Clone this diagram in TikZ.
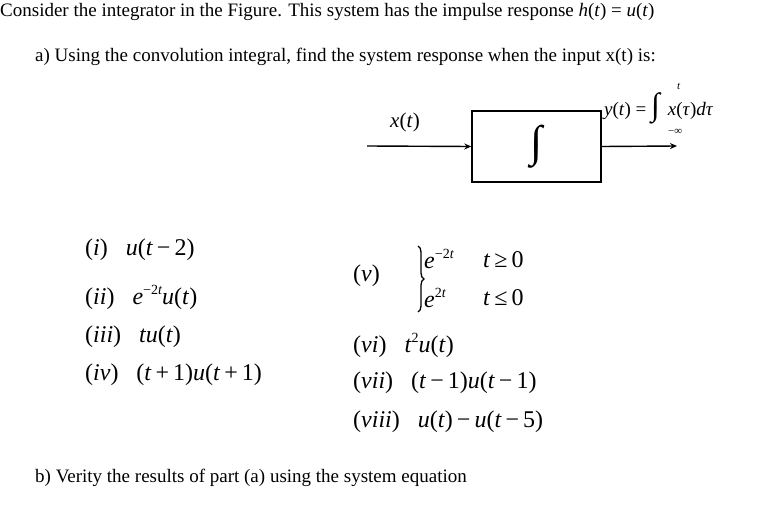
\documentclass[tikz,border=0pt]{standalone}
\usepackage{fontspec}
\setmainfont{Liberation Serif}
\usetikzlibrary{arrows.meta,decorations.pathreplacing}
\newcommand{\iv}[1]{\textit{#1}}
\newcommand{\spr}[1]{\raisebox{10pt}{\fontsize{14}{14}\selectfont #1}}
\begin{document}
\begin{tikzpicture}[x=1pt,y=-1pt,
  txt/.style={anchor=west,inner sep=0pt,font=\fontsize{19}{22}\selectfont},
  eq/.style={anchor=west,inner sep=0pt,font=\fontsize{24}{27}\selectfont},
  sup/.style={anchor=west,inner sep=0pt},
  sig/.style={-{Stealth[length=7pt,width=6pt]},line width=1.4pt}]
\useasboundingbox (0,0) rectangle (777,530);
\node[txt] (title) at (0,12) {Consider the integrator in the Figure. This system has the impulse response \iv{h}(\iv{t}) = \iv{u}(\iv{t})};
\node[txt] (pa) at (35,57) {a) Using the convolution integral, find the system response when the input x(t) is:};
\node[draw,line width=1.4pt,minimum width=129pt,minimum height=71pt,inner sep=0pt] (box) at (536.5,146.5) {\fontsize{44}{44}\selectfont ∫};
\coordinate (in) at (367,146);
\coordinate (out) at (677,146);
\draw[sig] (in) -- (box.west);
\draw[sig] (box.east) -- (out);
\node[eq,font=\fontsize{21}{24}\selectfont] (xt) at (390,122) {\iv{x}(\iv{t})};
\node[eq,font=\fontsize{19}{22}\selectfont] (yt) at (604,108) {\iv{y}(\iv{t}) = \fontsize{32}{32}\selectfont ∫ \fontsize{19}{22}\selectfont\iv{x}(\iv{τ})\iv{dτ}};
\node[sup,font=\fontsize{11}{11}\selectfont\itshape] (ut) at (677,86) {t};
\node[sup,font=\fontsize{11}{11}\selectfont] (lt) at (668,132) {−∞};
\node[eq] (i) at (85,250) {(\iv{i})\hspace{18pt}\iv{u}(\iv{t}\,−\,2)};
\node[eq] (ii) at (85,297) {(\iv{ii})\hspace{18pt}\iv{e}\spr{−2\iv{t}}\iv{u}(\iv{t})};
\node[eq] (iii) at (85,337) {(\iv{iii})\hspace{18pt}\iv{tu}(\iv{t})};
\node[eq] (iv) at (85,375) {(\iv{iv})\hspace{18pt}(\iv{t}\,+\,1)\iv{u}(\iv{t}\,+\,1)};
\node[eq] (v) at (353,276) {(\iv{v})};
\coordinate (bt) at (418,246);
\coordinate (bb) at (418,312);
\draw[line width=1.3pt,decorate,decoration={brace,amplitude=6pt}] (bt) -- (bb);
\node[eq] (e1) at (424,259) {\iv{e}\spr{−2\iv{t}}};
\node[eq] (e2) at (424,298) {\iv{e}\spr{2\iv{t}}};
\node[eq] (c1) at (483,260) {\iv{t}\,≥\,0};
\node[eq] (c2) at (483,298) {\iv{t}\,≤\,0};
\node[eq] (vi) at (353,345) {(\iv{vi})\hspace{18pt}\iv{t}\spr{2}\iv{u}(\iv{t})};
\node[eq] (vii) at (353,383) {(\iv{vii})\hspace{18pt}(\iv{t}\,−\,1)\iv{u}(\iv{t}\,−\,1)};
\node[eq] (viii) at (353,422) {(\iv{viii})\hspace{18pt}\iv{u}(\iv{t})\,−\,\iv{u}(\iv{t}\,−\,5)};
\node[txt] (pb) at (35,478) {b) Verity the results of part (a) using the system equation};
\end{tikzpicture}
\end{document}
